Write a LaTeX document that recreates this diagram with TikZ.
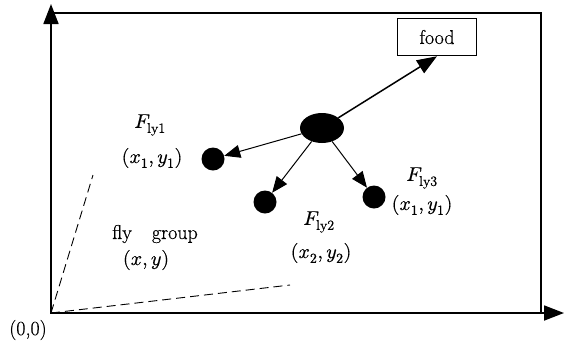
\documentclass[tikz,border=0pt]{standalone}
\usepackage{amsmath}
\usepackage{fontspec}
\usepackage{unicode-math}
\setmainfont{Latin Modern Roman}[FakeBold=0.6]
\setmathfont{Latin Modern Math}[FakeBold=0.6]
\usetikzlibrary{arrows.meta,positioning,shapes.geometric}
\tikzset{
  bird/.style={circle,fill=black,minimum size=23pt,inner sep=0pt},
  leader/.style={ellipse,fill=black,minimum width=44pt,minimum height=30pt,inner sep=0pt},
  move/.style={-{Triangle[length=16pt,width=13pt]},line width=1pt},
  axis/.style={-{Triangle[length=20pt,width=15pt]},line width=1.8pt},
  lbl/.style={inner sep=1pt},
  spread/.style={dashed,dash pattern=on 9pt off 5pt,line width=0.9pt},
}

\begin{document}
\begin{tikzpicture}[x=1pt,y=-1pt,font=\fontsize{20}{24}\selectfont]
  \useasboundingbox (0,0) rectangle (564,349);
  % frame and axes
  \draw[line width=1.8pt] (51,13) rectangle (541,313);
  \coordinate (O) at (51,313);
  \coordinate (ytop) at (51,4);
  \coordinate (xend) at (564,313);
  \draw[axis] (O) -- (ytop);
  \draw[axis] (O) -- (xend);
  \node[lbl] (origin) at (28,330) {(0,0)};

  % food and flies
  \node[draw,line width=1.5pt,minimum width=79pt,minimum height=37pt] (food) at (437,37) {food};
  \node[leader] (lead) at (322,128) {};
  \node[bird] (b1) at (213,159) {};
  \node[bird] (b2) at (265,202) {};
  \node[bird] (b3) at (374,197) {};

  \draw[move,line width=1.5pt,-{Triangle[length=20pt,width=15pt]}] (lead) -- (food.south);
  \draw[move] (lead) -- (b1);
  \draw[move] (lead) -- (b2);
  \draw[move] (lead) -- (b3);

  % labels
  \node[lbl] (f1) at (150,125) {$F_{\mathrm{ly1}}$};
  \node[lbl] (p1) at (152,158) {$(x_{1},y_{1})$};
  \node[lbl] (f2) at (319,222) {$F_{\mathrm{ly2}}$};
  \node[lbl] (p2) at (321,253) {$(x_{2},y_{2})$};
  \node[lbl] (f3) at (422,178) {$F_{\mathrm{ly3}}$};
  \node[lbl] (p3) at (422,205) {$(x_{1},y_{1})$};
  \node[lbl] (grp) at (155,234) {fly\quad group};
  \node[lbl] (gxy) at (146,260) {$(x,y)$};

  % group spread
  \coordinate (d1) at (93,175);
  \coordinate (d2) at (290,285);
  \draw[spread] (O) -- (d1);
  \draw[spread] (O) -- (d2);
\end{tikzpicture}
\end{document}
